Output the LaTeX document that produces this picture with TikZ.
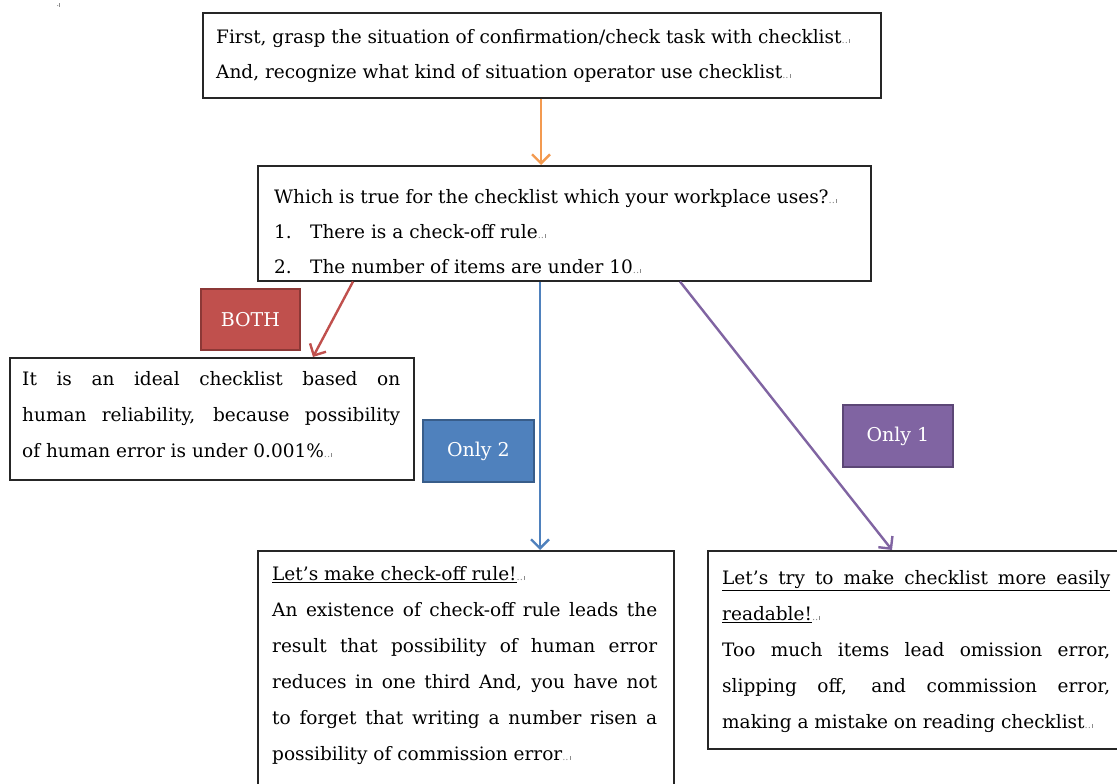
\documentclass[tikz,border=0pt]{standalone}
\usepackage{fontspec}
\setmainfont{DejaVu Serif}
\usetikzlibrary{arrows.meta}
\definecolor{orA}{HTML}{F39A50}
\definecolor{redA}{HTML}{C0504D}
\definecolor{redB}{HTML}{8C3836}
\definecolor{bluA}{HTML}{4F81BD}
\definecolor{bluB}{HTML}{385D8A}
\definecolor{purA}{HTML}{8064A2}
\definecolor{purB}{HTML}{5C4776}
\newcommand\pmk{{\color{black!45}\fontsize{10}{10}\selectfont..\kern1pt\rule[0.5pt]{0.6pt}{4pt}}}
\newcommand\jl[2]{\makebox[#1][s]{#2}}
\newcommand\fl{\rule{0pt}{14pt}}
\begin{document}
\begin{tikzpicture}[x=1pt,y=-1pt,
  box/.style={draw=black!85, line width=1.6pt, fill=white, inner sep=0pt, anchor=north west},
  txt/.style={inner sep=0pt, align=left, anchor=north west, font=\fontsize{18.5}{35}\selectfont},
  txtb/.style={inner sep=0pt, align=left, anchor=north west, font=\fontsize{18.5}{36}\selectfont},
  lab/.style={line width=1.8pt, inner sep=0pt, anchor=north west, text=white, font=\fontsize{19}{19}\selectfont},
  arr/.style={line width=2.4pt, -{Straight Barb[length=9pt,width=18pt,line width=2.4pt]}}]
\useasboundingbox (0,0) rectangle (1117,784);
\fill[white] (0,0) rectangle (1117,784);

\node[font=\fontsize{9}{9}\selectfont, text=black!45] (mk) at (58,5) {.\rule{0.6pt}{4pt}};

% boxes
\node[box, minimum width=678pt, minimum height=85pt] (top) at (202,12) {};
\node[box, minimum width=613pt, minimum height=115pt] (mid) at (257,165) {};
\node[box, minimum width=404pt, minimum height=122pt] (left) at (9,357) {};
\node[box, minimum width=416pt, minimum height=260pt] (bmid) at (257,550) {};
\node[box, minimum width=430pt, minimum height=198pt] (right) at (707,550) {};

% labels
\node[lab, draw=redB, fill=redA, minimum width=99pt, minimum height=61pt] (both) at (200,288) {BOTH};
\node[lab, draw=bluB, fill=bluA, minimum width=111pt, minimum height=62pt] (only2) at (422,419) {Only 2};
\node[lab, draw=purB, fill=purA, minimum width=110pt, minimum height=62pt] (only1) at (842,404) {Only 1};

% texts
\node[txt] (ttop) at (216,29) {\fl First, grasp the situation of confirmation/check task with checklist\pmk\\
And, recognize what kind of situation operator use checklist\pmk};

\node[txt] (tmid) at (274,189) {\fl Which is true for the checklist which your workplace uses?\pmk\\
\makebox[36pt][l]{1.}There is a check-off rule\pmk\\
\makebox[36pt][l]{2.}The number of items are under 10\pmk};

\node[txtb] (tleft) at (22,371) {\fl\jl{378pt}{It is an ideal checklist based on}\\
\jl{378pt}{human reliability, because possibility}\\
of human error is under 0.001\%\pmk};

\node[txtb] (tbmid) at (272,566) {\fl\underline{Let’s make check-off rule!}\pmk\\
\jl{385pt}{An existence of check-off rule leads the}\\
\jl{385pt}{result that possibility of human error}\\
\jl{385pt}{reduces in one third And, you have not}\\
\jl{385pt}{to forget that writing a number risen a}\\
possibility of commission error\pmk};

\node[txtb] (tright) at (722,570) {\fl\underline{\jl{388pt}{Let’s try to make checklist more easily}}\\
\underline{readable!}\pmk\\
\jl{388pt}{Too much items lead omission error,}\\
\jl{388pt}{slipping off, and commission error,}\\
making a mistake on reading checklist\pmk};

% connectors
\draw[arr, orA] ([xshift=339pt]top.south west) -- ([xshift=284pt]mid.north west);
\draw[arr, redA] ([xshift=96pt]mid.south west) -- ([xshift=304pt]left.north west);
\draw[arr, bluA] ([xshift=283pt]mid.south west) -- ([xshift=283pt]bmid.north west);
\draw[arr, purA] ([xshift=423pt]mid.south west) -- ([xshift=185pt]right.north west);
\end{tikzpicture}
\end{document}
